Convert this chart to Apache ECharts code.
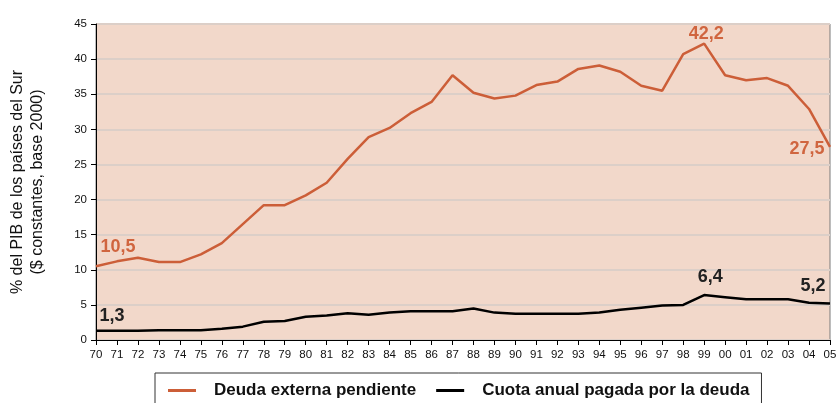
<!DOCTYPE html>
<html lang="es">
<head>
    <meta charset="UTF-8">
    <title>Deuda externa</title>
    <script src="https://cdn.jsdelivr.net/npm/echarts@6.0.0/dist/echarts.min.js"></script>
    <style type="text/css">
        html, body { margin: 0; padding: 0; background: #fff; }
        #chart { width: 838px; height: 403px; }
    </style>
</head>
<body>
<div id="chart"></div>
<script type="text/javascript">
    // años 1970 - 2005
    const years = ['70', '71', '72', '73', '74', '75', '76', '77', '78', '79',
        '80', '81', '82', '83', '84', '85', '86', '87', '88', '89',
        '90', '91', '92', '93', '94', '95', '96', '97', '98', '99',
        '00', '01', '02', '03', '04', '05'];

    // % del PIB
    const deuda = [10.5, 11.2, 11.7, 11.1, 11.1, 12.2, 13.8, 16.5, 19.2, 19.2,
        20.6, 22.4, 25.8, 28.9, 30.2, 32.3, 33.9, 37.7, 35.2, 34.4,
        34.8, 36.3, 36.8, 38.6, 39.1, 38.2, 36.2, 35.5, 40.7, 42.2,
        37.7, 37.0, 37.3, 36.2, 32.9, 27.5];
    const cuota = [1.3, 1.3, 1.3, 1.4, 1.4, 1.4, 1.6, 1.9, 2.6, 2.7,
        3.3, 3.5, 3.8, 3.6, 3.9, 4.1, 4.1, 4.1, 4.5, 3.9,
        3.75, 3.75, 3.75, 3.75, 3.9, 4.3, 4.6, 4.9, 5.0, 6.4,
        6.1, 5.8, 5.8, 5.8, 5.3, 5.2];

    const seriesNames = ['Deuda externa pendiente', 'Cuota anual pagada por la deuda'];
    const yTicks = { min: 0, max: 45, step: 5 };

    // puntos con etiqueta: índice del año
    const deudaLabelIdx = [0, 29, 35];
    const cuotaLabelIdx = [0, 29, 35];

    const orange = '#CC5E38';
    const offsetsDeuda = { 0: [22, -19], 29: [2, -10], 35: [-23, 2] };
    const offsetsCuota = { 0: [16, -15], 29: [6, -18], 35: [-17, -17] };

    function withLabels(values, idxList, offsets, color) {
        return values.map(function (v, i) {
            if (idxList.indexOf(i) < 0) return v;
            return {
                value: v,
                label: {
                    show: true,
                    position: 'inside',
                    offset: offsets[i],
                    formatter: function (p) { return String(p.value).replace('.', ','); },
                    color: color,
                    fontSize: 18,
                    fontWeight: 'bold',
                    fontFamily: 'Liberation Sans, Arial, sans-serif'
                }
            };
        });
    }

    const myChart = echarts.init(document.getElementById('chart'), null, { renderer: 'canvas' });

    const option = {
        animation: false,
        backgroundColor: '#ffffff',
        textStyle: { fontFamily: 'Liberation Sans, Arial, sans-serif' },
        grid: {
            left: 96, right: 8, top: 24, bottom: 63,
            outerBoundsMode: 'none',
            containLabel: false,
            show: true,
            backgroundColor: '#F2D8CA',
            borderColor: '#7a7a7a',
            borderWidth: 1
        },
        legend: {
            left: 155,
            top: 373,
            padding: [9, 12, 9, 13],
            borderColor: '#333',
            borderWidth: 1,
            itemGap: 20,
            itemWidth: 28,
            itemHeight: 3,
            icon: 'rect',
            textStyle: {
                color: '#111',
                fontSize: 17,
                fontWeight: 'bold',
                padding: [0, 0, 0, 13]
            },
            data: seriesNames
        },
        xAxis: {
            type: 'category',
            data: years,
            boundaryGap: false,
            axisLine: { lineStyle: { color: '#000', width: 1 } },
            axisTick: { show: true, inside: false, length: 5, interval: 0, lineStyle: { color: '#000' } },
            axisLabel: { interval: 0, color: '#111', fontSize: 11.5, margin: 9 },
            splitLine: { show: false }
        },
        yAxis: {
            type: 'value',
            min: yTicks.min,
            max: yTicks.max,
            interval: yTicks.step,
            name: '% del PIB de los países del Sur\n($ constantes, base 2000)',
            nameLocation: 'middle',
            nameGap: 48,
            nameTextStyle: { color: '#111', fontSize: 16, lineHeight: 20 },
            axisLine: { show: true, lineStyle: { color: '#000', width: 1 } },
            axisTick: { show: true, length: 5, lineStyle: { color: '#000' } },
            axisLabel: { color: '#111', fontSize: 11.5, margin: 9 },
            splitLine: { show: true, lineStyle: { color: '#DCCFC8', width: 2 } }
        },
        series: [
            {
                name: seriesNames[0],
                type: 'line',
                data: withLabels(deuda, deudaLabelIdx, offsetsDeuda, '#D0653F'),
                symbol: 'circle',
                symbolSize: 0,
                showSymbol: true,
                lineStyle: { color: orange, width: 2.5 },
                itemStyle: { color: orange },
                z: 3
            },
            {
                name: seriesNames[1],
                type: 'line',
                data: withLabels(cuota, cuotaLabelIdx, offsetsCuota, '#222'),
                symbol: 'circle',
                symbolSize: 0,
                showSymbol: true,
                lineStyle: { color: '#000', width: 2.5 },
                itemStyle: { color: '#000' },
                z: 3
            }
        ]
    };

    myChart.setOption(option);
</script>
</body>
</html>
